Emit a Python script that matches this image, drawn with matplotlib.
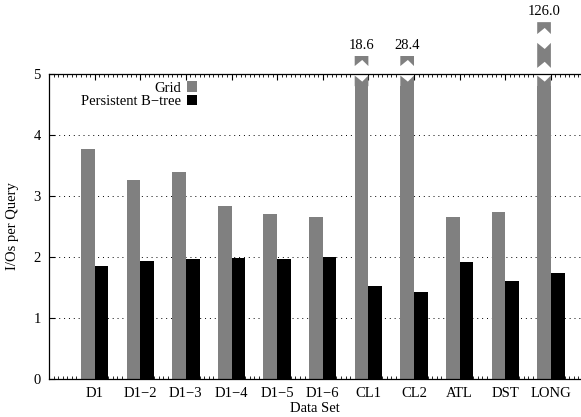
import matplotlib
matplotlib.use("Agg")
import matplotlib.pyplot as plt
from matplotlib.patches import Polygon
from matplotlib.ticker import MultipleLocator
import numpy as np

plt.rcParams["font.family"] = ["Liberation Serif", "DejaVu Serif"]
plt.rcParams["font.size"] = 10.5

# data
datasets = ["D1", "D1\u22122", "D1\u22123", "D1\u22124", "D1\u22125", "D1\u22126",
            "CL1", "CL2", "ATL", "DST", "LONG"]
grid_ios = [3.77, 3.27, 3.40, 2.84, 2.71, 2.66, 18.6, 28.4, 2.66, 2.74, 126.0]
pbtree_ios = [1.86, 1.94, 1.96, 1.98, 1.96, 2.00, 1.52, 1.42, 1.91, 1.60, 1.74]
ymax = 5

x = np.arange(1, len(datasets) + 1)
w = 0.3
gray = "#808080"

fig = plt.figure(figsize=(5.81, 4.17), dpi=100)
ax = fig.add_axes([49 / 581, 38 / 417, 532 / 581, 305 / 417])

# bars (tall ones get clipped at the top of the axis)
ax.bar(x - w / 2, np.minimum(grid_ios, ymax - 0.03), w, color=gray, label="Grid", zorder=2)
ax.bar(x + w / 2, pbtree_ios, w, color="black", label="Persistent B\u2212tree", zorder=2)

# break marks for values off the scale
trans = ax.get_xaxis_transform()
notch = 0.02


def piece(x0, bottom, top, notch_bottom=True, notch_top=True):
    x1 = x0 + w
    xm = x0 + w * 0.55
    pts = []
    if notch_bottom:
        pts += [(x0, bottom), (xm, bottom + notch), (x1, bottom)]
    else:
        pts += [(x0, bottom), (x1, bottom)]
    if notch_top:
        pts += [(x1, top), (xm, top - notch), (x0, top)]
    else:
        pts += [(x1, top), (x0, top)]
    return Polygon(pts, closed=True, transform=trans, color=gray,
                   clip_on=False, zorder=3, lw=0)


for xi, v in zip(x, grid_ios):
    if v <= ymax:
        continue
    x0 = xi - w
    # white out the top of the clipped bar and redraw with a notch
    ax.add_patch(Polygon([(x0, 0.96), (x0 + w, 0.96), (x0 + w, 1.0), (x0, 1.0)],
                         transform=trans, color="white", zorder=2.5, lw=0))
    ax.add_patch(piece(x0, 0.96, 0.995, notch_bottom=False))
    if v > 100:
        ax.add_patch(piece(x0, 1.020, 1.102))
        ax.add_patch(piece(x0, 1.131, 1.170, notch_top=False))
        ty = 1.183
    else:
        ax.add_patch(piece(x0, 1.026, 1.059, notch_top=False))
        ty = 1.072
    ax.text(xi - w / 2, ty, f"{v:.1f}", transform=trans, ha="center", va="bottom")

ax.set_xlim(0, 11.66)
ax.set_ylim(0, ymax)
ax.set_xticks(x)
ax.set_xticklabels(datasets)
ax.set_yticks(range(0, ymax + 1))
ax.xaxis.set_minor_locator(MultipleLocator(0.1))
ax.tick_params(axis="x", which="major", direction="in", length=4, top=True, bottom=True, pad=6)
ax.tick_params(axis="x", which="minor", direction="in", length=2, top=True, bottom=True)
ax.tick_params(axis="y", direction="in", length=4, pad=6)
ax.grid(axis="y", linestyle=(0, (1, 4)), color="black", linewidth=0.7, zorder=0)
ax.set_axisbelow(True)
ax.spines["right"].set_visible(False)
for s in ["left", "top", "bottom"]:
    ax.spines[s].set_linewidth(0.9)

ax.set_xlabel("Data Set", labelpad=1)
ax.set_ylabel("I/Os per Query", labelpad=10)

leg = ax.legend(loc="upper right", bbox_to_anchor=(0.289, 0.995), frameon=False,
                markerfirst=False, handlelength=0.7, handleheight=0.7,
                handletextpad=0.4, labelspacing=0.0, borderaxespad=0)
for t in leg.get_texts():
    t.set_ha("right")

fig.savefig("out.png", dpi=100)
